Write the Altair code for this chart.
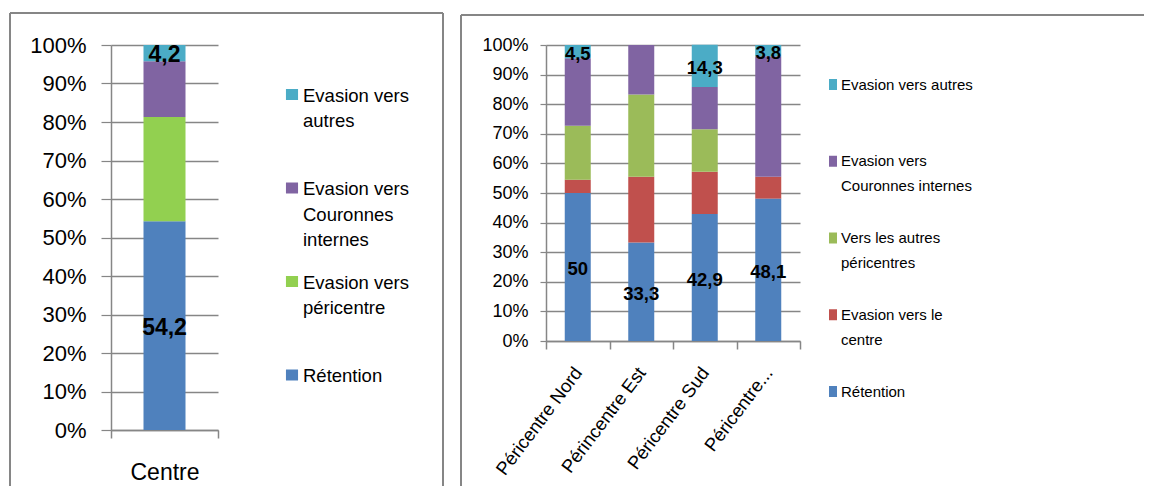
import altair as alt
import pandas as pd

# ---------------- data ----------------
centre_category = ["Centre"]
centre_series = ["Rétention", "Evasion vers péricentre",
                 "Evasion vers Couronnes internes", "Evasion vers autres"]
centre_values = [54.2, 27.1, 14.5, 4.2]
centre_colors = ["#4F81BD", "#92D050", "#8064A2", "#4BACC6"]
centre_legend_labels = ["Evasion vers\nautres", "Evasion vers\nCouronnes\ninternes",
                        "Evasion vers\npéricentre", "Rétention"]
centre_legend_colors = ["#4BACC6", "#8064A2", "#92D050", "#4F81BD"]

peri_categories = ["Péricentre Nord", "Périncentre Est", "Péricentre Sud", "Péricentre..."]
peri_series = ["Rétention", "Evasion vers le centre", "Vers les autres péricentres",
               "Evasion vers Couronnes internes", "Evasion vers autres"]
peri_retention = [50, 33.3, 42.9, 48.1]
peri_vers_centre = [4.5, 22.2, 14.3, 7.4]
peri_autres_pericentres = [18.2, 27.8, 14.3, 0]
peri_couronnes = [22.8, 16.7, 14.3, 40.7]
peri_autres = [4.5, 0, 14.3, 3.8]
peri_colors = ["#4F81BD", "#C0504D", "#9BBB59", "#8064A2", "#4BACC6"]
peri_legend_labels = ["Evasion vers autres", "Evasion vers\nCouronnes internes",
                      "Vers les autres\npéricentres", "Evasion vers le\ncentre", "Rétention"]
peri_legend_colors = ["#4BACC6", "#8064A2", "#9BBB59", "#C0504D", "#4F81BD"]

labelled_series = ["Rétention", "Evasion vers autres"]

# ---------------- tables ----------------
df_c = pd.DataFrame({
    "cat": centre_category * len(centre_series),
    "serie": centre_series,
    "k": list(range(len(centre_series))),
    "v": centre_values,
})
rows = []
peri_matrix = [peri_retention, peri_vers_centre, peri_autres_pericentres, peri_couronnes, peri_autres]
for k, (s, vals) in enumerate(zip(peri_series, peri_matrix)):
    for c, v in zip(peri_categories, vals):
        rows.append({"cat": c, "serie": s, "k": k, "v": v})
df_p = pd.DataFrame(rows)

one = pd.DataFrame({"a": [0]})

GRID = "#868686"
FONT = "Liberation Sans"
yvals = list(range(0, 101, 10))


def bars_panel(df, cats, series, colors, W, H, bar_size, ylabsize, ypad, ytick,
               xlabsize, xangle, xpad, labsize, borders):
    color = alt.Color("serie:N", scale=alt.Scale(domain=series, range=colors), legend=None)
    xaxis = alt.Axis(tickBand="extent", tickSize=8, tickColor=GRID, tickWidth=1.5,
                     domainColor=GRID, domainWidth=1.5, grid=False,
                     labelFont=FONT, labelFontSize=xlabsize, labelColor="#000000",
                     labelAngle=xangle, labelPadding=xpad,
                     labelAlign="center" if xangle == 0 else "right",
                     labelBaseline="top" if xangle == 0 else "middle",
                     labelLimit=300)
    yaxis = alt.Axis(values=yvals, labelExpr="datum.value + '%'",
                     labelFont=FONT, labelFontSize=ylabsize, labelColor="#000000",
                     labelPadding=ypad, tickSize=ytick, tickColor=GRID, tickWidth=1.2,
                     domainColor=GRID, domainWidth=1.5,
                     gridColor=GRID, gridWidth=1.3)
    yscale = alt.Scale(domain=[0, 100], nice=False)
    xscale = alt.Scale(paddingInner=0, paddingOuter=0)
    bars = alt.Chart(df).mark_bar(size=bar_size).encode(
        x=alt.X("cat:N", sort=cats, title=None, scale=xscale, axis=xaxis),
        y=alt.Y("v:Q", stack="zero", title=None, scale=yscale, axis=yaxis),
        color=color,
        order=alt.Order("k:Q", sort="ascending"),
    )
    labels = alt.Chart(df).transform_stack(
        stack="v", groupby=["cat"], sort=[alt.SortField("k", order="ascending")], as_=["y0", "y1"]
    ).transform_calculate(
        mid="(datum.y0 + datum.y1) / 2",
        txt="replace(toString(datum.v), '.', ',')",
    ).transform_filter(
        alt.FieldOneOfPredicate(field="serie", oneOf=labelled_series)
    ).transform_filter("datum.v > 0").mark_text(
        font=FONT, fontSize=labsize, fontWeight="bold", color="#000000", baseline="middle", dy=2
    ).encode(
        x=alt.X("cat:N", sort=cats, title=None, scale=xscale, axis=xaxis),
        y=alt.Y("mid:Q", title=None, scale=yscale, axis=yaxis),
        text="txt:N",
    )
    layers = [bars, labels]
    for b in borders:
        layers.append(alt.Chart(one).mark_rule(color=GRID, strokeWidth=2).encode(**b))
    return alt.layer(*layers).properties(width=W, height=H)


def legend_panel(labels, colors, W, H, yrange, sx, tx, fsize, lh, sym_path, dy):
    yenc = alt.Y("lab:N", scale=alt.Scale(type="point", domain=labels, range=yrange, padding=0),
                 axis=None)
    col = alt.Color("lab:N", scale=alt.Scale(domain=labels, range=colors), legend=None)
    d = pd.DataFrame({"lab": labels})
    sym = alt.Chart(d).mark_point(shape=sym_path, filled=True, size=121, opacity=1,
                                  strokeWidth=0).encode(
        x=alt.value(sx), y=yenc, color=col)
    txt = alt.Chart(d).mark_text(align="left", baseline="top", lineBreak="\n", font=FONT,
                                 fontSize=fsize, lineHeight=lh, color="#000000", dy=dy).encode(
        x=alt.value(tx), y=yenc, text="lab:N")
    return alt.layer(sym, txt).properties(width=W, height=H)


left = bars_panel(df_c, centre_category, centre_series, centre_colors, 107, 385, 42,
                  22, 15, 10, 23, 0, 23, 23,
                  borders=[
                      dict(x=alt.value(-101), x2=alt.value(332), y=alt.value(-32)),
                      dict(x=alt.value(-101), y=alt.value(-32), y2=alt.value(441)),
                      dict(x=alt.value(332), y=alt.value(-32), y2=alt.value(441)),
                  ])
left_leg = legend_panel(centre_legend_labels, centre_legend_colors, 288, 385,
                        [49.5, 330], 54, 65, 18.5, 25.7,
                        "M-1.1,-1H1.1V1H-1.1Z", -8)
right = bars_panel(df_p, peri_categories, peri_series, peri_colors, 254, 296, 26,
                   18, 12, 6, 18.5, -53, 20, 18.5,
                   borders=[
                       dict(x=alt.value(-85), x2=alt.value(598), y=alt.value(-30)),
                       dict(x=alt.value(-85), y=alt.value(-30), y2=alt.value(441)),
                   ])
right_leg = legend_panel(peri_legend_labels, peri_legend_colors, 150, 296,
                         [39.5, 346.5], 13, 21, 15, 25,
                         "M-0.73,-1H0.73V1H-0.73Z", -7)

chart = alt.hconcat(left, left_leg, right, right_leg, spacing=20, bounds="flush").resolve_scale(
    color="independent", x="independent", y="independent"
).properties(
    padding={"left": 1, "top": 4, "right": 0, "bottom": 0}
).configure_view(stroke=None)

chart.save("out.html", embed_options={"renderer": "svg", "actions": False})
